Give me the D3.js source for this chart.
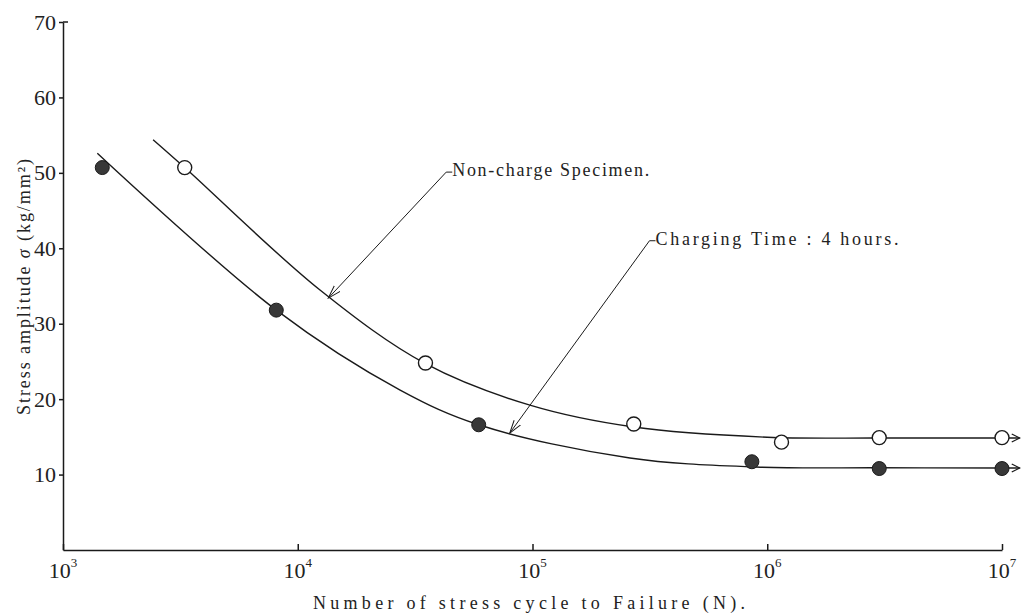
<!DOCTYPE html>
<html><head><meta charset="utf-8">
<script src="https://cdn.jsdelivr.net/npm/d3@7"></script>
<style>
html,body{margin:0;padding:0;background:#fff;}
text{font-family:"Liberation Serif","DejaVu Serif",serif;fill:#222;}
</style></head>
<body>
<svg id="chart" width="1032" height="615"></svg>
<script>
// ---- data ----
const xTickExps = [3, 4, 5, 6, 7];
const yTicks = [10, 20, 30, 40, 50, 60, 70];

// measured points: Non-charge specimen (open circles)
const nonChargeN = [3.3e3, 3.5e4, 2.7e5, 1.15e6, 3.0e6, 1.0e7];
const nonChargeS = [50.7, 24.8, 16.7, 14.3, 14.9, 14.9];
// measured points: Charging time 4 hours (filled circles)
const chargedN = [1.47e3, 8.1e3, 5.9e4, 8.6e5, 3.0e6, 1.0e7];
const chargedS = [50.7, 31.8, 16.6, 11.7, 10.8, 10.8];

// fitted S-N curves (hand drawn in original)
const nonChargeCurveN = [2.42e3, 3.3e3, 1.24e4, 3.5e4, 9.75e4, 2.7e5, 1.0e6, 3.0e6, 1.0e7, 1.19e7];
const nonChargeCurveS = [54.4, 50.7, 34.5, 24.7, 19.2, 16.3, 14.95, 14.85, 14.85, 14.85];
const chargedCurveN = [1.4e3, 8.1e3, 2.73e4, 5.9e4, 2.6e5, 9.0e5, 3.0e6, 1.0e7, 1.19e7];
const chargedCurveS = [52.6, 31.8, 21.2, 16.6, 12.2, 11.0, 10.9, 10.87, 10.87];

// annotations (leader start / tip in data units)
const annotationText = ["Non-charge Specimen.", "Charging Time : 4 hours."];
const annotationWidth = [197, 243];
const annotationStartN = [4.29e4, 3.15e5];
const annotationStartS = [50.1, 41.0];
const annotationTipN = [1.35e4, 8.0e4];
const annotationTipS = [33.4, 15.5];

const xLabel = "Number of stress cycle to Failure (N).";
const yLabelParts = ["Stress amplitude ", "σ", " (kg/mm²)"];

// ---- drawing ----
const svg = d3.select("#chart");
const x = d3.scaleLog().domain([1e3, 1e7]).range([63, 1002]);
const y = d3.scaleLinear().domain([0, 70]).range([550, 22]);
const ink = "#1a1a1a";

// markers
const defs = svg.append("defs");
defs.append("marker").attr("id", "chev").attr("viewBox", "0 0 10 10")
  .attr("refX", 9).attr("refY", 5).attr("markerWidth", 10).attr("markerHeight", 10)
  .attr("markerUnits", "userSpaceOnUse").attr("orient", "auto")
  .append("path").attr("d", "M1,1 L9,5 L1,9").attr("fill", "none").attr("stroke", ink).attr("stroke-width", 1.3);
defs.append("marker").attr("id", "vhead").attr("viewBox", "0 0 14 10")
  .attr("refX", 13).attr("refY", 5).attr("markerWidth", 14).attr("markerHeight", 10)
  .attr("markerUnits", "userSpaceOnUse").attr("orient", "auto")
  .append("path").attr("d", "M0,1 L13,5 L0,9").attr("fill", "none").attr("stroke", ink).attr("stroke-width", 1);

// x axis
const xAxis = d3.axisBottom(x).tickValues(xTickExps.map(e => Math.pow(10, e)))
  .tickSizeInner(-6).tickSizeOuter(0).tickFormat("");
const gx = svg.append("g").attr("transform", `translate(0,${y(0)})`).call(xAxis);
gx.selectAll("path,line").attr("stroke", ink).attr("stroke-width", 1.5);
const xl = svg.append("g").selectAll("text").data(xTickExps).join("text")
  .attr("x", d => x(Math.pow(10, d))).attr("y", y(0) + 28)
  .attr("text-anchor", "middle").attr("font-size", 22);
xl.append("tspan").text("10");
xl.append("tspan").attr("font-size", 13).attr("dy", -11).text(d => d);

// y axis
const yAxis = d3.axisLeft(y).tickValues(yTicks).tickSizeInner(4).tickSizeOuter(0).tickPadding(3);
const gy = svg.append("g").attr("transform", `translate(${x(1e3)},0)`).call(yAxis);
gy.selectAll("path,line").attr("stroke", ink).attr("stroke-width", 1.5);
gy.selectAll("text").attr("font-size", 22).attr("font-family", '"Liberation Serif",serif').attr("fill", "#222");
gy.append("line").attr("x1", 0).attr("x2", 5).attr("y1", y(70)).attr("y2", y(70))
  .attr("stroke", ink).attr("stroke-width", 1.5);

// axis titles
svg.append("text").attr("x", 529).attr("y", 609).attr("text-anchor", "middle")
  .attr("font-size", 18).attr("textLength", 432).attr("lengthAdjust", "spacing").text(xLabel);
const yt = svg.append("text").attr("transform", `translate(30,287) rotate(-90)`).attr("text-anchor", "middle")
  .attr("font-size", 18).attr("textLength", 256).attr("lengthAdjust", "spacing");
yt.selectAll("tspan").data(yLabelParts).join("tspan")
  .attr("font-style", (d, i) => i === 1 ? "italic" : "normal").text(d => d);

// curves
const line = d3.line().x(d => x(d[0])).y(d => y(d[1])).curve(d3.curveCatmullRom.alpha(0.5));
const curves = [
  d3.zip(nonChargeCurveN, nonChargeCurveS),
  d3.zip(chargedCurveN, chargedCurveS)
];
svg.append("g").selectAll("path").data(curves).join("path")
  .attr("d", line).attr("fill", "none").attr("stroke", ink).attr("stroke-width", 1.4)
  .attr("marker-end", "url(#chev)");

// points
svg.append("g").selectAll("circle").data(d3.zip(nonChargeN, nonChargeS)).join("circle")
  .attr("cx", d => x(d[0])).attr("cy", d => y(d[1])).attr("r", 7)
  .attr("fill", "#fff").attr("stroke", ink).attr("stroke-width", 1.4);
svg.append("g").selectAll("circle").data(d3.zip(chargedN, chargedS)).join("circle")
  .attr("cx", d => x(d[0])).attr("cy", d => y(d[1])).attr("r", 7)
  .attr("fill", "#383838").attr("stroke", ink).attr("stroke-width", 1);

// annotations
const ann = annotationText.map((t, i) => ({
  t, w: annotationWidth[i], sx: x(annotationStartN[i]), sy: y(annotationStartS[i]),
  tx: x(annotationTipN[i]), ty: y(annotationTipS[i])
}));
const ga = svg.append("g");
ga.selectAll("line.lead").data(ann).join("line").attr("class", "lead")
  .attr("x1", d => d.sx).attr("y1", d => d.sy).attr("x2", d => d.tx).attr("y2", d => d.ty)
  .attr("stroke", ink).attr("stroke-width", 1).attr("marker-end", "url(#vhead)");
ga.selectAll("line.hook").data(ann).join("line").attr("class", "hook")
  .attr("x1", d => d.sx).attr("y1", d => d.sy).attr("x2", d => d.sx + 6).attr("y2", d => d.sy)
  .attr("stroke", ink).attr("stroke-width", 1);
ga.selectAll("text").data(ann).join("text")
  .attr("x", d => d.sx + 6).attr("y", d => d.sy + 4)
  .attr("font-size", 18).attr("textLength", d => d.w)
  .attr("lengthAdjust", "spacing").text(d => d.t);
</script>
</body></html>
